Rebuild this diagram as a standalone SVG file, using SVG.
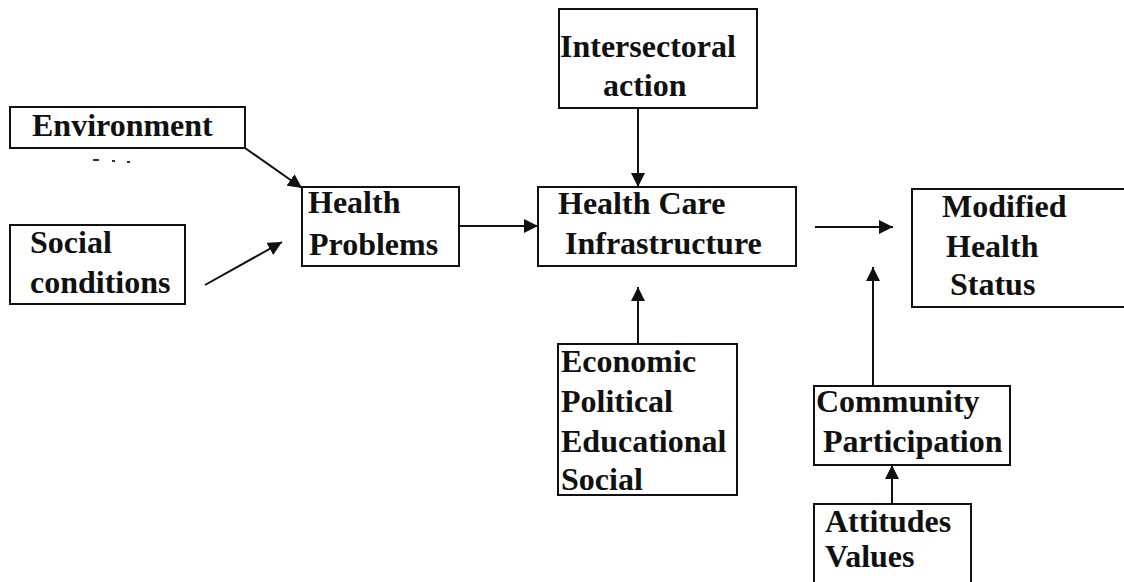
<svg xmlns="http://www.w3.org/2000/svg" width="1124" height="582" viewBox="0 0 1124 582">
  <defs>
    <marker id="arrow" viewBox="0 0 14 14" refX="14" refY="7" markerWidth="14" markerHeight="14" markerUnits="userSpaceOnUse" orient="auto">
      <path d="M0,0 L14,7 L0,14 Z" fill="#111"/>
    </marker>
  </defs>
  <style>
    .box { fill: #fff; stroke: #111; stroke-width: 2; }
    .lbl { font-family: "Liberation Serif", "Times New Roman", serif; font-weight: bold; font-size: 32px; fill: #111; }
    .edge { stroke: #111; stroke-width: 2; fill: none; marker-end: url(#arrow); }
  </style>
  <rect width="1124" height="582" fill="#fff"/>

  <!-- connectors -->
  <g id="connectors">
    <line class="edge" x1="245" y1="148" x2="302" y2="188"/>
    <line class="edge" x1="205" y1="285" x2="282" y2="242"/>
    <line class="edge" x1="459" y1="226" x2="538" y2="226"/>
    <line class="edge" x1="638" y1="108" x2="638" y2="187"/>
    <line class="edge" x1="638" y1="344" x2="638" y2="287"/>
    <line class="edge" x1="815" y1="227" x2="893" y2="227"/>
    <line class="edge" x1="873" y1="386" x2="873" y2="267"/>
    <line class="edge" x1="892" y1="504" x2="892" y2="465"/>
  </g>

  <g id="environment">
    <rect class="box" x="10" y="107" width="235" height="41"/>
    <text class="lbl" x="32" y="136">Environment</text>
  </g>
  <!-- small stray marks below the environment box -->
  <g id="marks" fill="#333">
    <rect x="93" y="159" width="6" height="2"/>
    <rect x="112" y="160" width="3" height="2"/>
    <rect x="127" y="161" width="3" height="2"/>
  </g>

  <g id="social-conditions">
    <rect class="box" x="10" y="225" width="175" height="79"/>
    <text class="lbl" x="30" y="253">Social</text>
    <text class="lbl" x="30" y="293">conditions</text>
  </g>

  <g id="health-problems">
    <rect class="box" x="302" y="187" width="157" height="79"/>
    <text class="lbl" x="308" y="213">Health</text>
    <text class="lbl" x="309" y="255">Problems</text>
  </g>

  <g id="intersectoral-action">
    <rect class="box" x="559" y="9" width="198" height="99"/>
    <text class="lbl" x="560" y="57">Intersectoral</text>
    <text class="lbl" x="603" y="96">action</text>
  </g>

  <g id="health-care-infrastructure">
    <rect class="box" x="538" y="187" width="258" height="79"/>
    <text class="lbl" x="558" y="214">Health Care</text>
    <text class="lbl" x="565" y="254">Infrastructure</text>
  </g>

  <g id="economic-factors">
    <rect class="box" x="558" y="344" width="179" height="151"/>
    <text class="lbl" x="561" y="372">Economic</text>
    <text class="lbl" x="561" y="412">Political</text>
    <text class="lbl" x="561" y="452">Educational</text>
    <text class="lbl" x="561" y="490">Social</text>
  </g>

  <g id="modified-health-status">
    <rect class="box" x="912" y="189" width="220" height="118"/>
    <text class="lbl" x="942" y="217">Modified</text>
    <text class="lbl" x="946" y="257">Health</text>
    <text class="lbl" x="950" y="295">Status</text>
  </g>

  <g id="community-participation">
    <rect class="box" x="814" y="386" width="196" height="79"/>
    <text class="lbl" x="816" y="412">Community</text>
    <text class="lbl" x="823" y="452">Participation</text>
  </g>

  <g id="attitudes-values">
    <rect class="box" x="814" y="504" width="157" height="90"/>
    <text class="lbl" x="825" y="532">Attitudes</text>
    <text class="lbl" x="825" y="567">Values</text>
  </g>
</svg>
